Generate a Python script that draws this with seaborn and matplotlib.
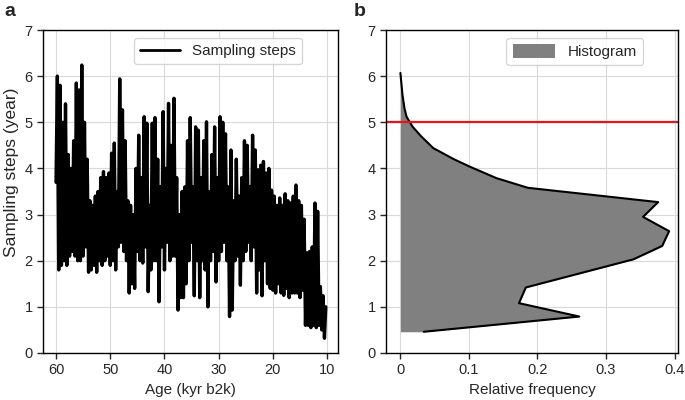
import numpy as np
import pandas as pd
import matplotlib
matplotlib.use("Agg")
import matplotlib.pyplot as plt
import seaborn as sns

# ---- data ----
# sampling steps (year), one value every 0.25 kyr starting at 60 kyr b2k
age_start = 60.0
age_step = 0.25
steps = [
    3.7, 6.0, 1.8, 5.8,      # 60
    1.9, 5.0, 2.0, 5.4,      # 59
    1.9, 4.3, 2.1, 4.0,      # 58
    2.2, 4.6, 2.1, 5.85,     # 57
    2.0, 5.7, 2.0, 6.24,     # 56
    2.1, 5.0, 2.3, 4.2,      # 55
    1.75, 3.3, 1.8, 3.2,     # 54
    1.9, 3.4, 1.75, 3.5,     # 53
    2.0, 3.8, 1.9, 3.93,     # 52
    2.0, 3.8, 2.1, 3.9,      # 51
    1.9, 4.33, 2.0, 4.55,    # 50
    1.8, 3.5, 2.3, 5.94,     # 49
    2.4, 5.27, 2.2, 4.6,     # 48
    2.0, 3.3, 1.3, 3.2,      # 47
    1.5, 3.0, 1.4, 4.0,      # 46
    2.2, 4.72, 2.0, 3.8,     # 45
    1.95, 5.12, 2.3, 4.98,   # 44
    1.33, 3.2, 1.8, 4.98,    # 43
    2.0, 5.1, 2.0, 4.2,      # 42
    1.11, 3.6, 2.3, 5.23,    # 41
    1.8, 4.0, 2.4, 5.41,     # 40
    2.0, 4.5, 2.1, 5.52,     # 39
    2.1, 3.8, 0.93, 3.0,     # 38
    1.2, 3.5, 1.2, 3.6,      # 37
    1.5, 4.6, 2.0, 5.1,      # 36
    2.4, 3.6, 1.24, 4.9,     # 35
    2.0, 4.83, 1.2, 3.8,     # 34
    2.0, 4.6, 1.8, 5.01,     # 33
    1.0, 3.5, 2.0, 4.3,      # 32
    2.2, 4.9, 1.54, 3.8,     # 31
    2.0, 5.12, 2.2, 5.0,     # 30
    2.4, 4.75, 2.0, 3.6,     # 29
    0.79, 4.4, 0.93, 3.3,    # 28
    2.0, 4.2, 2.1, 3.4,      # 27
    1.47, 3.8, 2.0, 4.6,     # 26
    2.2, 4.5, 2.4, 3.6,      # 25
    2.0, 4.72, 2.3, 4.4,     # 24
    1.3, 3.97, 1.8, 4.07,    # 23
    1.24, 4.15, 2.0, 3.9,    # 22
    1.5, 4.0, 1.4, 3.53,     # 21
    1.36, 3.4, 1.3, 3.2,     # 20
    1.5, 3.36, 1.3, 3.2,     # 19
    1.25, 3.45, 1.4, 3.3,    # 18
    1.2, 3.25, 1.3, 3.4,     # 17
    1.3, 3.64, 1.3, 3.3,     # 16
    1.2, 3.2, 1.36, 2.9,     # 15
    0.6, 2.17, 0.6, 2.2,     # 14
    0.55, 2.3, 0.6, 3.25,    # 13
    0.55, 3.07, 0.6, 1.44,   # 12
    0.5, 1.24, 0.32, 1.0,    # 11
]

# histogram outline (relative frequency vs sampling step)
hist_step = [6.07, 5.6, 5.3, 5.12, 4.9, 4.7, 4.44, 4.2, 4.04, 3.79, 3.58,
             3.27, 2.95, 2.64, 2.32, 2.03, 1.42, 1.08, 0.79, 0.46]
hist_freq = [0.0, 0.003, 0.006, 0.009, 0.018, 0.03, 0.048, 0.078, 0.101, 0.14, 0.186,
             0.376, 0.354, 0.392, 0.382, 0.34, 0.183, 0.173, 0.261, 0.034]
threshold = 5.0

xticks_a = [60, 50, 40, 30, 20, 10]
xticks_b = [0.0, 0.1, 0.2, 0.3, 0.4]
yticks = [0, 1, 2, 3, 4, 5, 6, 7]

# ---- style ----
sns.set_style("ticks")
plt.rcParams['font.family'] = ['Liberation Sans', 'DejaVu Sans']
plt.rcParams['font.size'] = 10.5
plt.rcParams['axes.linewidth'] = 1.0

fig = plt.figure(figsize=(6.85, 4.0), dpi=100)
ax1 = fig.add_axes([43/685, 47/400, 295/685, 323/400])
ax2 = fig.add_axes([386/685, 47/400, 292/685, 323/400])

ages = age_start - age_step * np.arange(len(steps))
df = pd.DataFrame({"age": ages, "step": steps})
sns.lineplot(data=df, x="age", y="step", ax=ax1, color="black", lw=2.4,
             label="Sampling steps", estimator=None, sort=False)
ax1.set_xlim(62.4, 8.0)
ax1.set_ylim(0, 7)
ax1.set_xticks(xticks_a)
ax1.set_yticks(yticks)
ax1.set_xlabel("Age (kyr b2k)", fontsize=11)
ax1.set_ylabel("Sampling steps (year)", fontsize=12.5)
ax1.yaxis.set_label_coords(-0.083, 0.56)
leg1 = ax1.legend(loc="upper right", bbox_to_anchor=(0.878, 0.975), borderaxespad=0,
                  handlelength=2.6, fontsize=11, frameon=True, fancybox=True,
                  edgecolor="#cccccc")
for line in leg1.get_lines():
    line.set_linewidth(2.0)

ax2.fill_betweenx(hist_step, 0, hist_freq, color="#808080", lw=0, label="Histogram")
hdf = pd.DataFrame({"freq": hist_freq, "step": hist_step})
sns.lineplot(data=hdf, x="freq", y="step", ax=ax2, color="black", lw=1.5,
             estimator=None, sort=False, legend=False)
ax2.axhline(threshold, color="#e8141a", lw=1.6)
ax2.set_xlim(-0.021, 0.405)
ax2.set_ylim(0, 7)
ax2.set_xticks(xticks_b)
ax2.set_xticklabels(["0", "0.1", "0.2", "0.3", "0.4"])
ax2.set_yticks(yticks)
ax2.set_xlabel("Relative frequency", fontsize=11)
ax2.set_ylabel("")
h, l = ax2.get_legend_handles_labels()
ax2.legend(h[:1], l[:1], loc="upper right", bbox_to_anchor=(0.880, 0.975), borderaxespad=0,
           handlelength=2.8, handleheight=1.0, fontsize=11, frameon=True, fancybox=True,
           edgecolor="#cccccc")

for ax in (ax1, ax2):
    ax.grid(True, color="#d9d9d9", lw=0.8)
    ax.set_axisbelow(True)
    ax.tick_params(direction="out", length=4, width=1, labelsize=10.5)
    for s in ax.spines.values():
        s.set_visible(True)
        s.set_color("black")

fig.text(4/685, 1 - 11/400, "a", fontsize=14, fontweight="bold", va="center", ha="left")
fig.text(354/685, 1 - 11/400, "b", fontsize=14, fontweight="bold", va="center", ha="left")

fig.savefig("out.png", dpi=100)
